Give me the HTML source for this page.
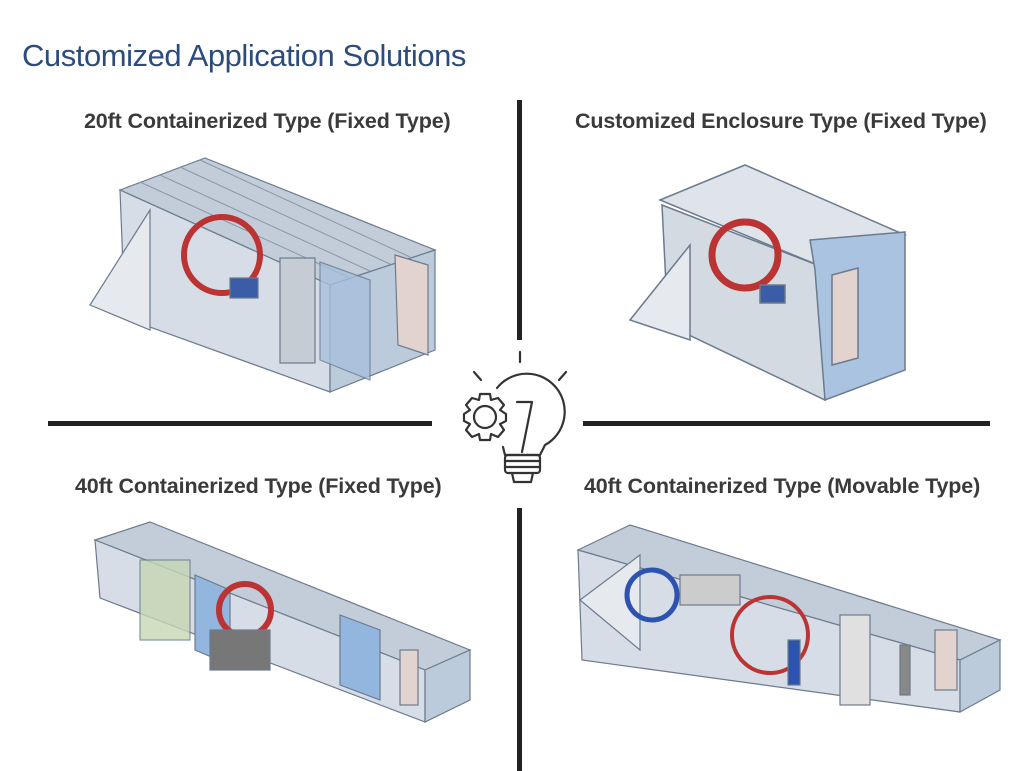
<!DOCTYPE html>
<html><head><meta charset="utf-8"><style>
html,body{margin:0;padding:0;background:#fff;}
body{width:1019px;height:771px;position:relative;overflow:hidden;font-family:"Liberation Sans",sans-serif;}
.t{position:absolute;left:22px;top:38px;font-size:31px;color:#2d4b7c;letter-spacing:-0.45px;}
.h{position:absolute;font-size:21.5px;font-weight:bold;color:#3a3a3a;white-space:nowrap;letter-spacing:-0.15px;}
svg{position:absolute;left:0;top:0;}
</style></head><body>
<div class="t">Customized Application Solutions</div>
<div class="h" style="left:84px;top:109px">20ft Containerized Type (Fixed Type)</div>
<div class="h" style="left:575px;top:109px">Customized Enclosure Type (Fixed Type)</div>
<div class="h" style="left:75px;top:474px">40ft Containerized Type (Fixed Type)</div>
<div class="h" style="left:584px;top:474px">40ft Containerized Type (Movable Type)</div>
<svg width="1019" height="771" viewBox="0 0 1019 771">
<g fill="#222"><rect x="517" y="100" width="5" height="240"/><rect x="517" y="508" width="5" height="263"/>
<rect x="48" y="421" width="384" height="5"/><rect x="583" y="421" width="407" height="5"/></g>
<g fill="none" stroke="#333" stroke-width="2.2" stroke-linecap="round" stroke-linejoin="round">
<line x1="520" y1="352" x2="520" y2="362"/><line x1="474" y1="372" x2="481" y2="380"/><line x1="566" y1="372" x2="559" y2="380"/>
<path d="M497 388 A38 38 0 1 1 545 445 L540 455 L505 455 L503 447"/>
<path d="M517 402 L532 402 L522 452"/>
<rect x="505" y="455" width="35" height="18" rx="3"/><line x1="505" y1="461" x2="540" y2="461"/><line x1="505" y1="467" x2="540" y2="467"/>
<path d="M512 473 L514 482 L531 482 L533 473"/>
<circle cx="485" cy="417" r="11"/>
<path d="M480 394 L490 394 L491 400 L498 398 L504 405 L500 410 L506 414 L506 421 L500 424 L504 430 L498 437 L491 434 L490 440 L480 440 L479 434 L472 437 L466 430 L470 424 L464 421 L464 414 L470 410 L466 405 L472 398 L479 400 Z"/>
</g>
<g stroke="#6c7b8e" stroke-width="1.2">
<polygon points="120,190 205,158 435,250 330,285" fill="#c3cdd9"/>
<g stroke="#8a97a8" stroke-width="1"><line x1="140" y1="182" x2="350" y2="278"/><line x1="160" y1="175" x2="370" y2="271"/><line x1="180" y1="167" x2="390" y2="264"/><line x1="200" y1="160" x2="410" y2="257"/></g>
<polygon points="120,190 330,285 330,392 125,318" fill="#d6dde6"/>
<polygon points="330,285 435,250 435,350 330,392" fill="#bccbdc"/>
<polygon points="90,305 150,210 150,330" fill="#e6e9ee"/>
<polygon points="395,255 428,265 428,355 398,345" fill="#e3d3cf"/>
<circle cx="222" cy="255" r="38" fill="none" stroke="#b33" stroke-width="6"/>
<rect x="280" y="258" width="35" height="105" fill="#c5ccd4"/>
<rect x="230" y="278" width="28" height="20" fill="#3b5da8"/>
<polygon points="320,262 370,280 370,380 320,360" fill="#a8c0dc" opacity=".8"/>
</g>
<g stroke="#6c7b8e" stroke-width="1.5">
<polygon points="660,200 745,165 905,235 825,268" fill="#dfe4ea"/>
<polygon points="662,205 825,268 825,400 668,325" fill="#d3dae2"/>
<polygon points="810,240 905,232 905,370 825,400 815,270" fill="#a9c3e0"/>
<polygon points="630,320 690,245 690,340" fill="#e6e9ee"/>
<polygon points="832,275 858,268 858,358 832,365" fill="#e3d3cf"/>
<circle cx="745" cy="255" r="33" fill="none" stroke="#b33" stroke-width="7"/>
<rect x="760" y="285" width="25" height="18" fill="#3b5da8"/>
</g>
<g stroke="#6c7b8e" stroke-width="1.2">
<polygon points="95,540 150,522 470,650 425,670" fill="#c3cdd9"/>
<polygon points="95,540 425,670 425,722 100,598" fill="#d6dde6"/>
<polygon points="425,670 470,650 470,700 425,722" fill="#bccbdc"/>
<rect x="140" y="560" width="50" height="80" fill="#c6d8b4" opacity=".8"/>
<polygon points="195,575 230,590 230,665 195,650" fill="#92b6dd"/>
<circle cx="245" cy="610" r="26" fill="none" stroke="#b33" stroke-width="6"/>
<rect x="210" y="630" width="60" height="40" fill="#777"/>
<polygon points="340,615 380,630 380,700 340,685" fill="#92b6dd"/>
<rect x="400" y="650" width="18" height="55" fill="#e3d3cf"/>
</g>
<g stroke="#6c7b8e" stroke-width="1.2">
<polygon points="578,550 630,525 1000,640 960,660" fill="#c3cdd9"/>
<polygon points="578,550 960,660 960,712 582,660" fill="#d6dde6"/>
<polygon points="960,660 1000,640 1000,690 960,712" fill="#bccbdc"/>
<polygon points="580,600 640,555 640,650" fill="#e6e9ee"/>
<circle cx="652" cy="595" r="25" fill="none" stroke="#2d53b0" stroke-width="5"/>
<circle cx="770" cy="635" r="38" fill="none" stroke="#b33" stroke-width="4"/>
<rect x="680" y="575" width="60" height="30" fill="#ccc"/>
<rect x="788" y="640" width="12" height="45" fill="#2d53b0"/>
<rect x="840" y="615" width="30" height="90" fill="#e0e0e0"/>
<rect x="935" y="630" width="22" height="60" fill="#e3d3cf"/>
<rect x="900" y="645" width="10" height="50" fill="#888"/>
</g>
</svg>
</body></html>
